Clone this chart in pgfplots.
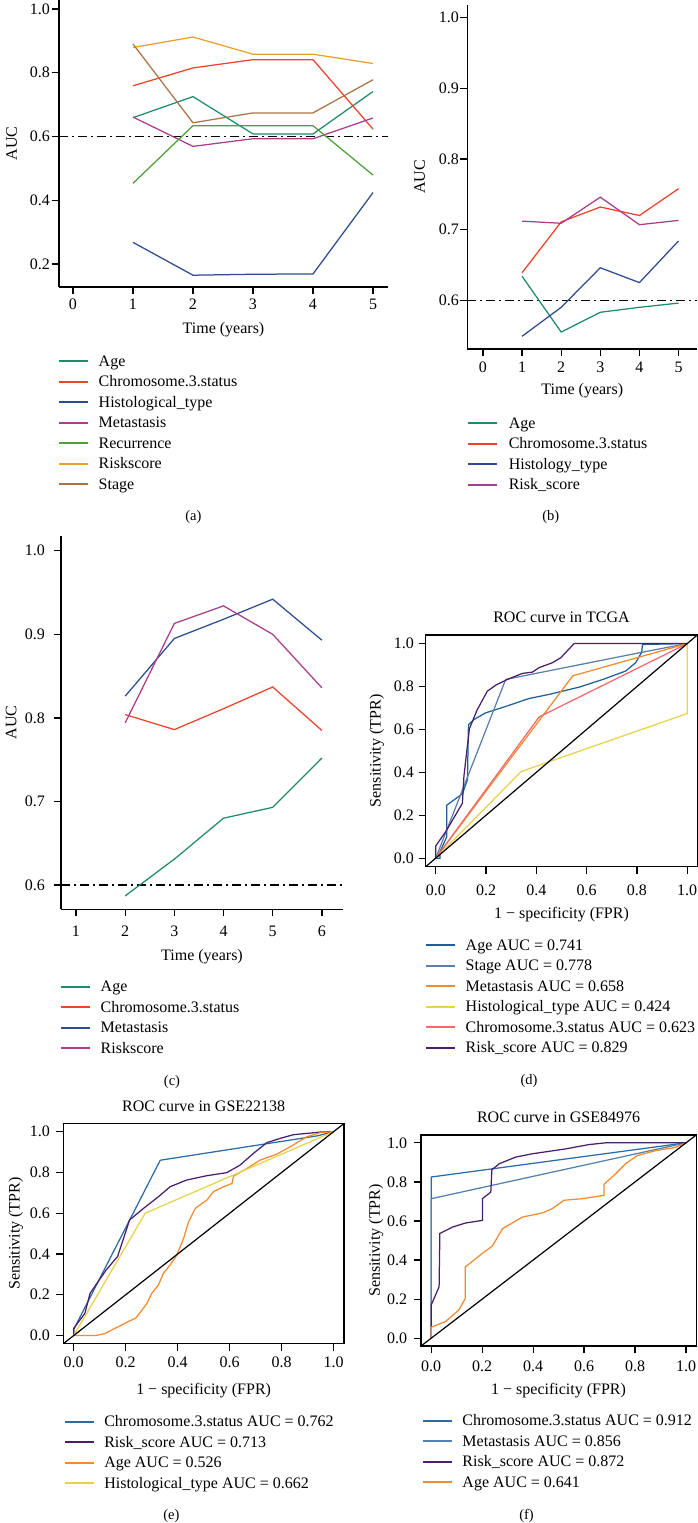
\documentclass[border=0pt]{standalone}
\usepackage{fontspec}
\setmainfont{Liberation Serif}
\usepackage{pgfplots}
\pgfplotsset{compat=1.18}
\newcommand\fsz{\fontsize{16}{19}\selectfont}
\newcommand\capsz{\fontsize{14.5}{17}\selectfont}
\definecolor{cAge}{HTML}{1E8C69}
\definecolor{cChr}{HTML}{F0412A}
\definecolor{cHis}{HTML}{2D4B91}
\definecolor{cMet}{HTML}{AA3C8C}
\definecolor{cRec}{HTML}{50A037}
\definecolor{cRis}{HTML}{E8A128}
\definecolor{cSta}{HTML}{AA7348}
\definecolor{rAge}{HTML}{1F5F99}
\definecolor{rSta}{HTML}{5B80A8}
\definecolor{rMet}{HTML}{F28A30}
\definecolor{rHis}{HTML}{E8D24A}
\definecolor{rChr}{HTML}{F06A6A}
\definecolor{rRis}{HTML}{4A1E6E}
\definecolor{eChr}{HTML}{2B6CA8}
\definecolor{eMet}{HTML}{5282AD}
\pgfplotsset{
  common/.style={scale only axis, anchor=south west,
    /pgf/number format/assume math mode=true,
    tick align=outside, major tick length=7pt,
    tick label style={font=\fsz, inner sep=0pt},
    label style={font=\fsz},
    title style={font=\fsz},
    legend cell align=left,
    legend style={draw=none, fill=none, inner sep=0pt, outer sep=0pt, row sep=0pt,
      column sep=10pt, font=\fsz, anchor=north west,
      nodes={inner sep=0pt, text height=15.25pt, text depth=5.25pt}},
    legend image code/.code={\draw[##1, line width=1.7pt] (0pt,0pt) -- (29pt,0pt);},
    every axis plot/.append style={line width=1.25pt, no markers, sharp plot},
    yticklabel style={anchor=east, /pgf/number format/fixed, /pgf/number format/fixed zerofill, /pgf/number format/precision=1},
    ylabel style={anchor=base},
    xlabel style={anchor=base},
    xticklabel style={anchor=base},
  },
  ggax/.style={common, axis x line*=bottom, axis y line*=left,
    x axis line style={-}, y axis line style={-},
    axis line style={line width=1.3pt, black},
    tick style={line width=1.3pt, black},
    xticklabel style={/pgf/number format/precision=0, /pgf/number format/fixed zerofill=false},
  },
  rocax/.style={common, axis line style={line width=1.2pt, black},
    tick style={line width=1.2pt, black},
    xtick pos=left, ytick pos=left,
    xmin=-0.04, xmax=1.04, ymin=-0.04, ymax=1.04,
    xtick={0,0.2,0.4,0.6,0.8,1}, ytick={0,0.2,0.4,0.6,0.8,1},
    xticklabel style={/pgf/number format/fixed, /pgf/number format/fixed zerofill, /pgf/number format/precision=1},
    xlabel={1 − specificity (FPR)}, ylabel={Sensitivity (TPR)},
  },
  hl/.style={black, line width=1.2pt, dash pattern=on 9pt off 4pt on 2pt off 4pt, forget plot},
  diag/.style={black, line width=1.2pt, forget plot},
}
\begin{document}
\begin{tikzpicture}
\path[use as bounding box] (0pt,0pt) rectangle (698pt,-1523pt);
% ---------------- (a)
\begin{axis}[ggax, at={(59pt,-287pt)}, width=329pt, height=287pt,
  xmin=-0.233, xmax=5.25, ymin=0.128, ymax=1.028,
  xtick={0,1,2,3,4,5}, ytick={0.2,0.4,0.6,0.8,1.0},
  xlabel={Time (years)}, ylabel={AUC},
  xlabel style={at={(axis description cs:0.5,-0.162)}},
  ylabel style={at={(axis description cs:-0.1277,0.5)}},
  xticklabel style={yshift=-15.3pt}, yticklabel style={xshift=-2pt},
  legend style={at={(-0.003,-0.2228)}}]
\addplot[hl] coordinates {(-0.233,0.6) (5.25,0.6)};
\addplot[cAge] coordinates {(1,0.659)(2,0.725)(3,0.608)(4,0.608)(5,0.741)};
\addlegendentry{Age}
\addplot[cChr] coordinates {(1,0.759)(2,0.815)(3,0.841)(4,0.841)(5,0.623)};
\addlegendentry{Chromosome.3.status}
\addplot[cHis] coordinates {(1,0.268)(2,0.165)(3,0.168)(4,0.169)(5,0.424)};
\addlegendentry{Histological\_type}
\addplot[cMet] coordinates {(1,0.661)(2,0.569)(3,0.593)(4,0.593)(5,0.658)};
\addlegendentry{Metastasis}
\addplot[cRec] coordinates {(1,0.453)(2,0.634)(3,0.634)(4,0.634)(5,0.479)};
\addlegendentry{Recurrence}
\addplot[cRis] coordinates {(1,0.879)(2,0.912)(3,0.858)(4,0.858)(5,0.829)};
\addlegendentry{Riskscore}
\addplot[cSta] coordinates {(1,0.890)(2,0.643)(3,0.674)(4,0.674)(5,0.778)};
\addlegendentry{Stage}
\end{axis}
% ---------------- (b)
\begin{axis}[ggax, at={(467.3pt,-349pt)}, width=230pt, height=344pt,
  xmin=-0.40, xmax=5.48, ymin=0.531, ymax=1.018,
  xtick={0,1,2,3,4,5}, ytick={0.6,0.7,0.8,0.9,1.0},
  xlabel={Time (years)}, ylabel={AUC},
  xlabel style={at={(axis description cs:0.5,-0.1337)}},
  ylabel style={at={(axis description cs:-0.184,0.5)}},
  xticklabel style={yshift=-16.7pt}, yticklabel style={xshift=-1.3pt},
  legend style={at={(-0.001,-0.1859)}, column sep=11pt}]
\addplot[hl] coordinates {(-0.40,0.6) (5.48,0.6)};
\addplot[cAge] coordinates {(1,0.634)(2,0.555)(3,0.583)(4,0.590)(5,0.596)};
\addlegendentry{Age}
\addplot[cChr] coordinates {(1,0.639)(2,0.711)(3,0.732)(4,0.720)(5,0.758)};
\addlegendentry{Chromosome.3.status}
\addplot[cHis] coordinates {(1,0.549)(2,0.590)(3,0.646)(4,0.625)(5,0.684)};
\addlegendentry{Histology\_type}
\addplot[cMet] coordinates {(1,0.712)(2,0.709)(3,0.746)(4,0.707)(5,0.713)};
\addlegendentry{Risk\_score}
\end{axis}
% ---------------- (c)
\begin{axis}[ggax, at={(61pt,-909.3pt)}, width=282pt, height=373.3pt,
  xmin=0.695, xmax=6.43, ymin=0.571, ymax=1.0176,
  xtick={1,2,3,4,5,6}, ytick={0.6,0.7,0.8,0.9,1.0},
  xlabel={Time (years)}, ylabel={AUC},
  xlabel style={at={(axis description cs:0.5,-0.1377)}},
  ylabel style={at={(axis description cs:-0.158,0.5)}},
  xticklabel style={yshift=-19.7pt}, yticklabel style={xshift=-9pt},
  legend style={at={(-0.0035,-0.1799)}}]
\addplot[hl] coordinates {(0.695,0.6) (6.43,0.6)};
\addplot[cAge] coordinates {(2,0.587)(3,0.631)(4,0.680)(5,0.693)(6,0.752)};
\addlegendentry{Age}
\addplot[cChr] coordinates {(2,0.804)(3,0.786)(4,0.811)(5,0.837)(6,0.785)};
\addlegendentry{Chromosome.3.status}
\addplot[cHis] coordinates {(2,0.826)(3,0.895)(4,0.918)(5,0.942)(6,0.893)};
\addlegendentry{Metastasis}
\addplot[cMet] coordinates {(2,0.794)(3,0.913)(4,0.934)(5,0.900)(6,0.836)};
\addlegendentry{Riskscore}
\end{axis}
% ---------------- (d)
\begin{axis}[rocax, at={(425.7pt,-866.7pt)}, width=271.6pt, height=231.7pt,
  title={ROC curve in TCGA},
  title style={at={(axis description cs:0.5,1.028)}, anchor=base},
  xlabel style={at={(axis description cs:0.5,-0.2244)}},
  ylabel style={at={(axis description cs:-0.166,0.5)}},
  xticklabel style={yshift=-21.3pt}, yticklabel style={xshift=-4.7pt},
  legend style={at={(-0.0026,-0.2946)}}]
\addplot[rAge] coordinates {(0,0)(0.017,0)(0.017,0.03)(0.044,0.10)(0.044,0.247)(0.106,0.30)(0.126,0.366)(0.130,0.622)(0.152,0.646)(0.198,0.677)(0.278,0.707)(0.371,0.744)(0.45,0.763)(0.57,0.797)(0.665,0.833)(0.755,0.872)(0.795,0.911)(0.819,0.96)(0.822,0.996)(1,1)};
\addlegendentry{Age AUC = 0.741}
\addplot[rSta] coordinates {(0,0)(0.278,0.833)(0.822,0.96)(1,1)};
\addlegendentry{Stage AUC = 0.778}
\addplot[rMet] coordinates {(0,0)(0.545,0.85)(1,1)};
\addlegendentry{Metastasis AUC = 0.658}
\addplot[rHis] coordinates {(0,0)(0.34,0.404)(1,0.674)(1,1)};
\addlegendentry{Histological\_type AUC = 0.424}
\addplot[rChr] coordinates {(0,0)(0.411,0.658)(1,1)};
\addlegendentry{Chromosome.3.status AUC = 0.623}
\addplot[rRis] coordinates {(0,0)(0,0.057)(0.04,0.124)(0.106,0.256)(0.112,0.381)(0.121,0.475)(0.134,0.604)(0.165,0.692)(0.205,0.778)(0.238,0.806)(0.285,0.833)(0.344,0.861)(0.384,0.867)(0.411,0.888)(0.464,0.911)(0.497,0.934)(0.55,1)(1,1)};
\addlegendentry{Risk\_score AUC = 0.829}
\addplot[diag] coordinates {(-0.04,-0.04)(1.04,1.04)};
\end{axis}
% ---------------- (e)
\begin{axis}[rocax, at={(63.3pt,-1343.7pt)}, width=280.7pt, height=220.2pt,
  title={ROC curve in GSE22138},
  title style={at={(axis description cs:0.5,1.0295)}, anchor=base},
  xlabel style={at={(axis description cs:0.5,-0.2284)}},
  ylabel style={at={(axis description cs:-0.156,0.5)}},
  xticklabel style={yshift=-16.6pt}, yticklabel style={xshift=-6.3pt},
  legend style={at={(0.0046,-0.3077)}, column sep=9pt}]
\addplot[eChr] coordinates {(0,0)(0,0.03)(0.333,0.86)(0.94,0.98)(1,1)};
\addlegendentry{Chromosome.3.status AUC = 0.762}
\addplot[rRis] coordinates {(0,0)(0,0.035)(0.043,0.109)(0.063,0.207)(0.125,0.322)(0.169,0.388)(0.215,0.567)(0.269,0.624)(0.326,0.681)(0.371,0.730)(0.435,0.763)(0.512,0.784)(0.589,0.799)(0.640,0.836)(0.692,0.894)(0.743,0.946)(0.794,0.967)(0.845,0.985)(0.948,0.998)(1,1)};
\addlegendentry{Risk\_score AUC = 0.713}
\addplot[rMet] coordinates {(0,0)(0.085,0)(0.12,0.01)(0.197,0.06)(0.24,0.087)(0.282,0.158)(0.30,0.207)(0.326,0.248)(0.345,0.305)(0.371,0.346)(0.397,0.395)(0.423,0.477)(0.442,0.558)(0.468,0.624)(0.513,0.665)(0.538,0.706)(0.577,0.730)(0.609,0.746)(0.615,0.782)(0.667,0.820)(0.718,0.861)(0.782,0.890)(0.833,0.926)(0.897,0.975)(0.948,0.995)(1,1)};
\addlegendentry{Age AUC = 0.526}
\addplot[rHis] coordinates {(0,0)(0.275,0.60)(1,1)};
\addlegendentry{Histological\_type AUC = 0.662}
\addplot[diag] coordinates {(-0.04,-0.04)(1.04,1.04)};
\end{axis}
% ---------------- (f)
\begin{axis}[rocax, at={(421pt,-1346pt)}, width=275.2pt, height=211pt,
  title={ROC curve in GSE84976},
  title style={at={(axis description cs:0.5,1.0308)}, anchor=base},
  xlabel style={at={(axis description cs:0.5,-0.2275)}},
  ylabel style={at={(axis description cs:-0.149,0.5)}},
  xticklabel style={yshift=-18.7pt}, yticklabel style={xshift=-6.7pt},
  legend style={at={(0.0036,-0.3055)}, column sep=9.8pt}]
\addplot[eChr] coordinates {(0,0)(0,0.825)(1,1)};
\addlegendentry{Chromosome.3.status AUC = 0.912}
\addplot[eMet] coordinates {(0,0)(0,0.714)(1,1)};
\addlegendentry{Metastasis AUC = 0.856}
\addplot[rRis] coordinates {(0,0)(0,0.17)(0.01,0.2)(0.031,0.263)(0.034,0.536)(0.084,0.569)(0.136,0.590)(0.201,0.603)(0.201,0.714)(0.234,0.748)(0.238,0.862)(0.267,0.893)(0.332,0.927)(0.397,0.944)(0.528,0.969)(0.619,0.991)(0.685,1)(1,1)};
\addlegendentry{Risk\_score AUC = 0.872}
\addplot[rMet] coordinates {(0,0)(0,0.056)(0.056,0.085)(0.108,0.144)(0.134,0.204)(0.134,0.365)(0.201,0.434)(0.24,0.472)(0.28,0.561)(0.358,0.62)(0.436,0.641)(0.475,0.663)(0.521,0.706)(0.593,0.714)(0.678,0.731)(0.678,0.787)(0.724,0.842)(0.763,0.893)(0.809,0.935)(0.881,0.96)(0.959,0.977)(1,1)};
\addlegendentry{Age AUC = 0.641}
\addplot[diag] coordinates {(-0.04,-0.04)(1.04,1.04)};
\end{axis}
% captions
\node[font=\capsz, inner sep=0pt] at (193.3pt,-517.5pt) {(a)};
\node[font=\capsz, inner sep=0pt] at (550.7pt,-517.5pt) {(b)};
\node[font=\capsz, inner sep=0pt] at (172pt,-1081.7pt) {(c)};
\node[font=\capsz, inner sep=0pt] at (529pt,-1081pt) {(d)};
\node[font=\capsz, inner sep=0pt] at (171.4pt,-1516pt) {(e)};
\node[font=\capsz, inner sep=0pt] at (526.5pt,-1516pt) {(f)};
\end{tikzpicture}
\end{document}
